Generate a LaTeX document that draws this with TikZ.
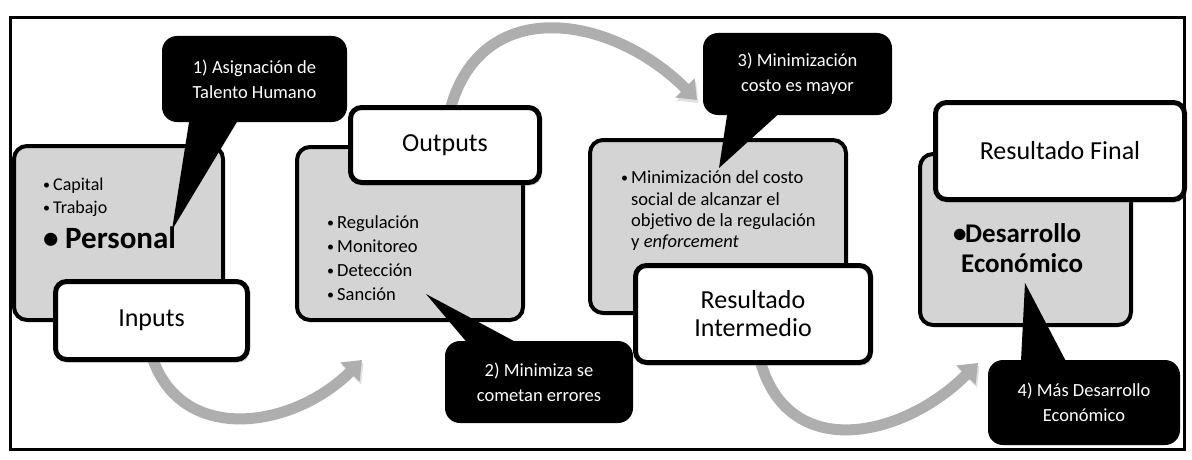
\documentclass[tikz,border=0pt]{standalone}
\usepackage{fontspec}
\setmainfont{Carlito}
\usetikzlibrary{arrows.meta,shadows}
\definecolor{boxgray}{RGB}{212,212,212}
\definecolor{flowgray}{RGB}{174,174,174}
\newcommand{\bul}{\makebox[10pt][l]{\raisebox{1pt}{\fs{14}{14}\textbullet}}}
\newcommand{\fs}[2]{\fontsize{#1}{#2}\selectfont}
\begin{document}
\begin{tikzpicture}[x=1pt,y=1pt,
  graybox/.style={draw,line width=4pt,fill=boxgray,rounded corners=13pt},
  whitebox/.style={draw,line width=5pt,fill=white,rounded corners=11pt,align=center,font=\fs{26}{28},
    drop shadow={shadow xshift=2pt,shadow yshift=-3pt,opacity=0.3}},
  callout/.style={fill=black,rounded corners=15pt,text=white,align=center,font=\fs{18.5}{25}},
  flow/.style={draw=flowgray,line width=11pt,-{Triangle[width=26pt,length=17pt]},
    preaction={draw=black!12,transform canvas={shift={(1.5pt,-3pt)}}}},
  items/.style={anchor=base west,inner sep=0pt,font=\fs{18.5}{24}}]
\useasboundingbox (0,0) rectangle (1192,-460);
\draw[line width=3pt] (10,-18) rectangle (1184,-449);
\coordinate (f1s) at (150,-350); \coordinate (f1e) at (362,-360);
\coordinate (f2s) at (450,-110); \coordinate (f2e) at (697,-100);
\coordinate (f3s) at (760,-360); \coordinate (f3e) at (978,-363);
\draw[flow] (f1s) to[out=-75,in=-135,looseness=1.2] (f1e);
\draw[flow] (f2s) to[out=75,in=135,looseness=1.25] (f2e);
\draw[flow] (f3s) to[out=-75,in=-135,looseness=1.25] (f3e);
\node[graybox,minimum width=209pt,minimum height=174pt] (inbox) at (118.5,-233) {};
\node[whitebox,minimum width=192pt,minimum height=78pt] (inputs) at (151.5,-320.5) {Inputs};
\node[graybox,minimum width=226pt,minimum height=173pt] (outbox) at (410,-233.5) {};
\node[whitebox,minimum width=189pt,minimum height=75pt] (outputs) at (445,-145) {Outputs};
\node[graybox,minimum width=256pt,minimum height=173pt] (midbox) at (718,-226.5) {};
\node[whitebox,minimum width=235pt,minimum height=97pt] (midres) at (753,-314) {Resultado\\Intermedio};
\node[graybox,minimum width=211pt,minimum height=171pt] (finbox) at (1025.5,-239.5) {};
\node[whitebox,minimum width=249pt,minimum height=97pt] (finres) at (1060,-151) {Resultado Final};
\foreach \t [count=\i] in {Capital,Trabajo}
  \node[items,font=\fs{18}{24}] (in\i) at (43,-167-23*\i) {\bul\t};
\node[items,font=\bfseries\fs{31}{32}] (in3) at (43,-248) {\makebox[22pt][l]{\textbullet}Personal};
\foreach \t [count=\i] in {Regulación,Monitoreo,Detección,Sanción}
  \node[items] (out\i) at (327,-204-24*\i) {\bul\t};
\node[items] (mid1) at (621,-183) {\bul Minimización del costo};
\node[items] (mid2) at (631,-205) {social de alcanzar el};
\node[items] (mid3) at (631,-226) {objetivo de la regulación};
\node[items] (mid4) at (631,-247) {y \textit{enforcement}};
\node[items,font=\bfseries\fs{27}{30}] (fin1) at (953,-242) {\makebox[12pt][l]{\textbullet}Desarrollo};
\node[items,font=\bfseries\fs{27}{30}] (fin2) at (961,-272) {Económico};
\node[callout,minimum width=185pt,minimum height=86pt] (c1) at (254.5,-79) {1) Asignación de\\Talento Humano};
\node[callout,minimum width=188pt,minimum height=82pt] (c2) at (539,-382) {2) Minimiza se\\cometan errores};
\node[callout,minimum width=189pt,minimum height=82pt] (c3) at (797.5,-74) {3) Minimización\\costo es mayor};
\node[callout,minimum width=192pt,minimum height=85pt] (c4) at (1084,-402.5) {4) Más Desarrollo\\Económico};
\coordinate (t1) at (172,-230); \coordinate (t2) at (426,-294);
\coordinate (t3) at (719,-168); \coordinate (t4) at (1025,-283);
\fill ([xshift=28pt,yshift=5pt]c1.south west) -- (t1) -- ([xshift=78pt,yshift=5pt]c1.south west) -- cycle;
\fill ([xshift=25pt,yshift=-5pt]c2.north west) -- (t2) -- ([xshift=78pt,yshift=-5pt]c2.north west) -- cycle;
\fill ([xshift=25pt,yshift=5pt]c3.south west) -- (t3) -- ([xshift=80pt,yshift=5pt]c3.south west) -- cycle;
\fill ([xshift=33pt,yshift=-5pt]c4.north west) -- (t4) -- ([xshift=80pt,yshift=-5pt]c4.north west) -- cycle;
\end{tikzpicture}
\end{document}
